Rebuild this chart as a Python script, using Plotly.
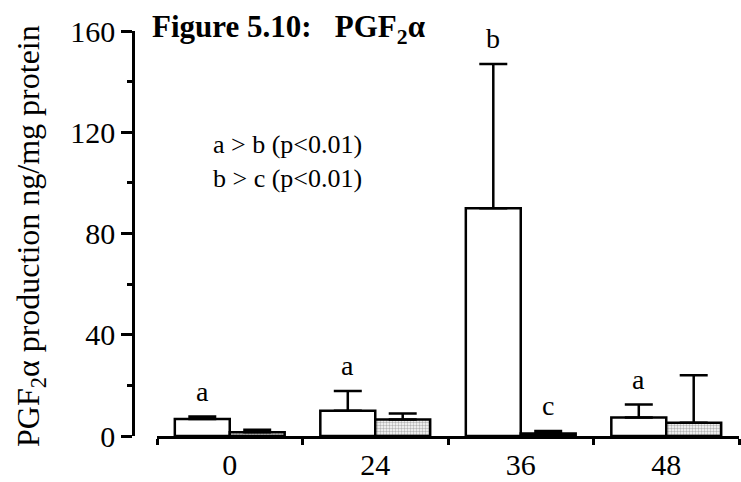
import plotly.graph_objects as go

# Time points (h) and PGF2alpha production (ng/mg protein), mean and upper SEM
hours = ["0", "24", "36", "48"]
open_mean = [6.7, 10.0, 90.0, 7.3]
open_err = [1.0, 7.8, 57.0, 5.1]
shaded_mean = [1.5, 6.5, 1.0, 5.2]
shaded_err = [1.0, 2.4, 1.0, 18.8]

# significance letters: (time point, series index, letter)
letters = [("0", 0, "a"), ("24", 0, "a"), ("36", 0, "b"), ("36", 1, "c"), ("48", 0, "a")]

FONT = "Liberation Serif"
W, H = 741, 482
ML, MR, MT, MB = 133, 2, 31, 46
X_START_PX = 157
BAR_PX = 55

fig = go.Figure()
fig.add_trace(go.Bar(
    x=hours, y=open_mean, name="open",
    marker=dict(color="white", line=dict(color="black", width=2.5)),
    error_y=dict(type="data", symmetric=False, array=open_err,
                 arrayminus=[0] * len(open_err), color="black",
                 thickness=2.5, width=14),
))
fig.add_trace(go.Bar(
    x=hours, y=shaded_mean, name="shaded",
    marker=dict(color="white", line=dict(color="black", width=2.5),
                pattern=dict(shape=".", fgcolor="#6a6a6a", bgcolor="white",
                             size=3, solidity=0.5)),
    error_y=dict(type="data", symmetric=False, array=shaded_err,
                 arrayminus=[0] * len(shaded_err), color="black",
                 thickness=2.5, width=14),
))

means = [open_mean, shaded_mean]
errs = [open_err, shaded_err]
for hour, s, letter in letters:
    i = hours.index(hour)
    fig.add_annotation(
        x=i, y=means[s][i] + errs[s][i], xref="x", yref="y",
        text=letter, showarrow=False, yanchor="bottom", yshift=8,
        xshift=(-1 if s == 0 else 1) * BAR_PX / 2,
        font=dict(family=FONT, size=28, color="black"),
    )

plot_w = W - ML - MR
plot_h = H - MT - MB
x_dom0 = (X_START_PX - ML) / plot_w

fig.add_annotation(
    x=(150 - ML) / plot_w, y=(H - MB - 29) / plot_h, xref="paper", yref="paper",
    xanchor="left", yanchor="middle", showarrow=False,
    text="<b>Figure 5.10:   PGF<sub>2</sub>α</b>",
    font=dict(family=FONT, size=31, color="black"),
)
fig.add_annotation(
    x=(211 - ML) / plot_w, y=(H - MB - 161) / plot_h, xref="paper", yref="paper",
    xanchor="left", yanchor="middle", showarrow=False, align="left",
    text="a &gt; b (p&lt;0.01)<br>b &gt; c (p&lt;0.01)",
    font=dict(family=FONT, size=26, color="black"),
)
fig.add_annotation(
    x=(30 - ML) / plot_w, y=(H - MB - 236) / plot_h, xref="paper", yref="paper",
    xanchor="center", yanchor="middle", showarrow=False, textangle=-90,
    text="PGF<sub>2</sub>α production ng/mg protein",
    font=dict(family=FONT, size=32, color="black"),
)

fig.update_layout(
    width=W, height=H,
    margin=dict(l=ML, r=MR, t=MT, b=MB),
    paper_bgcolor="white", plot_bgcolor="white",
    barmode="group", bargap=0.245, bargroupgap=0,
    showlegend=False,
    font=dict(family=FONT, size=30, color="black"),
    xaxis=dict(
        domain=[x_dom0, 1], type="category", range=[-0.5, len(hours) - 0.5],
        showline=True, linecolor="black", linewidth=2.5,
        ticks="outside", tickson="boundaries", ticklen=6, tickwidth=2.5,
        tickcolor="black", showgrid=False, zeroline=False,
        tickfont=dict(family=FONT, size=30, color="black"),
    ),
    yaxis=dict(
        range=[0, 160], anchor="free", position=0,
        tickvals=[0, 40, 80, 120, 160],
        showline=True, linecolor="black", linewidth=2.5,
        ticks="outside", ticklen=11, tickwidth=2.5, tickcolor="black",
        minor=dict(tickvals=[20, 60, 100, 140], ticks="outside", ticklen=5,
                   tickwidth=2.5, tickcolor="black"),
        showgrid=False, zeroline=False,
        tickfont=dict(family=FONT, size=30, color="black"),
    ),
)

fig.write_html("out.html")
